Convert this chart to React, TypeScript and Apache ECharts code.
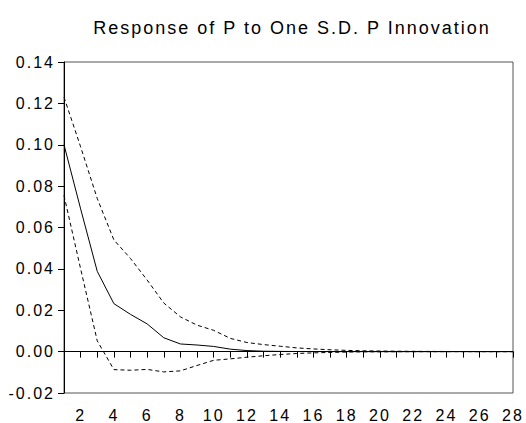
import React, { useEffect, useRef } from "react";
import * as echarts from "echarts";

const periods: string[] = Array.from({ length: 28 }, (_, i) => String(i + 1));

const response: number[] = [
  0.1, 0.069, 0.0388, 0.0232, 0.018, 0.0134, 0.0067, 0.0037, 0.0032, 0.0025,
  0.0012, 0.0005, 0.0002, 0.0001, 0.00005, 0.00003, 0.00002, 0.00001, 0, 0,
  0, 0, 0, 0, 0, 0, 0, 0,
];

const upperBand: number[] = [
  0.123, 0.099, 0.074, 0.054, 0.045, 0.0346, 0.0235, 0.0168, 0.0128, 0.0103,
  0.0064, 0.0044, 0.0034, 0.0026, 0.0018, 0.0013, 0.0009, 0.0006, 0.0004, 0.0003,
  0.0002, 0.00015, 0.0001, 0.00008, 0.00005, 0.00003, 0.00002, 0.00001,
];

const lowerBand: number[] = [
  0.0755, 0.04, 0.0052, -0.0087, -0.009, -0.0086, -0.0098, -0.0093, -0.0067, -0.0042,
  -0.0035, -0.0027, -0.002, -0.0014, -0.0009, -0.0006, -0.0004, -0.0002, -0.0001, -0.0001,
  -0.00005, -0.00003, -0.00002, -0.00001, 0, 0, 0, 0,
];

const yTicks = { min: -0.02, max: 0.14, interval: 0.02 };

const titleText = "Response of P to One S.D. P Innovation";

export default function App() {
  const ref = useRef<HTMLDivElement>(null);
  useEffect(() => {
    if (!ref.current) return;
    const chart = echarts.init(ref.current, undefined, { renderer: "svg" });
    const font = "'Liberation Sans', Arial, sans-serif";
    chart.setOption({
      animation: false,
      backgroundColor: "#ffffff",
      title: {
        text: titleText,
        left: 287,
        textAlign: "center",
        top: 14,
        textStyle: { fontFamily: font, fontSize: 18, fontWeight: "normal", color: "#000" },
      },
      grid: {
        left: 64,
        right: 13,
        top: 62,
        bottom: 25,
        show: true,
        borderColor: "#555",
        borderWidth: 1,
      },
      xAxis: {
        type: "category",
        data: periods,
        boundaryGap: false,
        axisLine: { lineStyle: { color: "#000", width: 1 } },
        axisTick: { show: true, interval: 0, length: 6, lineStyle: { color: "#000" } },
        axisLabel: {
          interval: (index: number) => index % 2 === 1,
          fontFamily: font,
          fontSize: 16,
          color: "#000",
          margin: 14,
        },
        splitLine: { show: false },
      },
      yAxis: {
        type: "value",
        min: yTicks.min,
        max: yTicks.max,
        interval: yTicks.interval,
        axisLine: { show: true, lineStyle: { color: "#000", width: 1 } },
        axisTick: { show: true, length: 6, lineStyle: { color: "#000" } },
        axisLabel: {
          formatter: (v: number) => v.toFixed(2),
          fontFamily: font,
          fontSize: 16,
          color: "#000",
          margin: 9,
        },
        splitLine: { show: false },
      },
      series: [
        {
          name: "Response",
          type: "line",
          data: response,
          symbol: "none",
          lineStyle: { color: "#000", width: 1 },
          markLine: {
            silent: true,
            symbol: "none",
            label: { show: false },
            lineStyle: { color: "#000", width: 1, type: "solid" },
            data: [{ yAxis: 0 }],
          },
        },
        {
          name: "Upper",
          type: "line",
          data: upperBand,
          symbol: "none",
          lineStyle: { color: "#000", width: 1, type: [4, 3] },
        },
        {
          name: "Lower",
          type: "line",
          data: lowerBand,
          symbol: "none",
          lineStyle: { color: "#000", width: 1, type: [4, 3] },
        },
      ],
    });
    return () => chart.dispose();
  }, []);
  return (
    <>
      <style>{`body{margin:0;} .irf-chart text{letter-spacing:2px;}`}</style>
      <div className="irf-chart" ref={ref} style={{ width: 526, height: 423 }} />
    </>
  );
}
